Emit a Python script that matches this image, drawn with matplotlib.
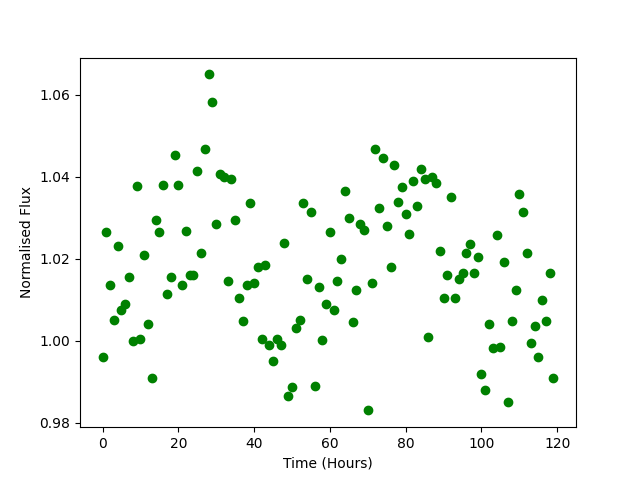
import numpy as np
import matplotlib
matplotlib.use("Agg")
import matplotlib.pyplot as plt

# hourly time stamps
time = np.arange(120)

# normalised flux
flux = [
    0.996, 1.0265, 1.0135, 1.005, 1.023, 1.0075, 1.009, 1.0155, 1.000, 1.0378,
    1.0005, 1.021, 1.004, 0.991, 1.0295, 1.0265, 1.038, 1.0115, 1.0155, 1.0453,
    1.038, 1.0135, 1.0268, 1.016, 1.016, 1.0415, 1.0215, 1.0468, 1.065, 1.0583,
    1.0285, 1.0408, 1.040, 1.0145, 1.0395, 1.0295, 1.0105, 1.0048, 1.0135, 1.0335,
    1.014, 1.018, 1.0005, 1.0185, 0.999, 0.995, 1.0005, 0.999, 1.0238, 0.9865,
    0.9887, 1.003, 1.005, 1.0335, 1.015, 1.0313, 0.989, 1.013, 1.0003, 1.009,
    1.0265, 1.0075, 1.0145, 1.020, 1.0365, 1.030, 1.0045, 1.0125, 1.0285, 1.027,
    0.983, 1.014, 1.0468, 1.0323, 1.0445, 1.028, 1.018, 1.043, 1.0338, 1.0375,
    1.031, 1.026, 1.039, 1.033, 1.042, 1.0395, 1.0008, 1.040, 1.0385, 1.0218,
    1.0105, 1.016, 1.035, 1.0105, 1.015, 1.0165, 1.0215, 1.0237, 1.0165, 1.0205,
    0.992, 0.988, 1.004, 0.9983, 1.0258, 0.9985, 1.0193, 0.985, 1.0048, 1.0123,
    1.0358, 1.0315, 1.0213, 0.9995, 1.0035, 0.996, 1.010, 1.0048, 1.0165, 0.991,
]

fig, ax = plt.subplots(figsize=(6.4, 4.8), dpi=100)
ax.plot(time, flux, 'go')
ax.set_xlabel('Time (Hours)')
ax.set_ylabel('Normalised Flux')

plt.savefig('out.png')
